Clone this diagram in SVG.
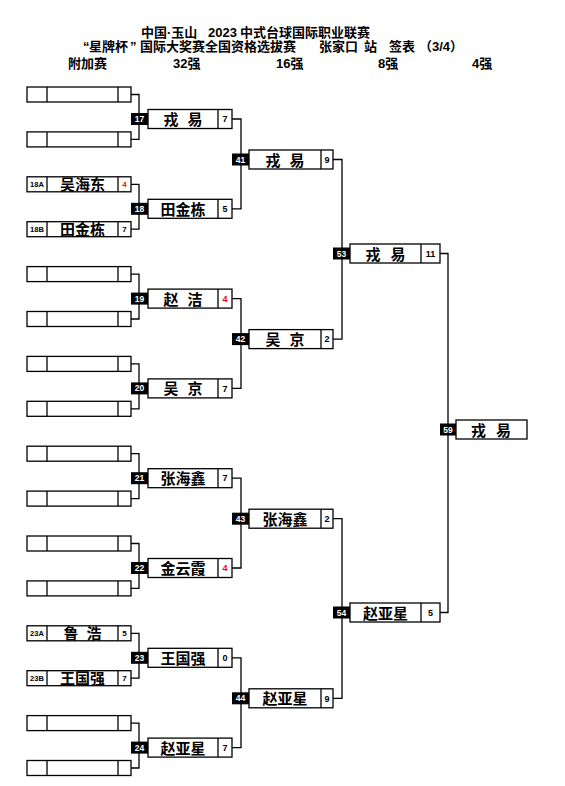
<svg xmlns="http://www.w3.org/2000/svg" width="565" height="786" viewBox="0 0 565 786">
<style>
.b{fill:#fff;stroke:#000;stroke-width:1.3}
.d{stroke:#000;stroke-width:1.3}
.c{fill:none;stroke:#000;stroke-width:1.3}
.lb{fill:#000}
.lt{fill:#fff;font-family:"Liberation Sans",sans-serif;font-weight:bold;font-size:8.5px;text-anchor:middle}
.nm{font-family:"Noto Sans CJK SC",sans-serif;font-weight:bold;font-size:15px;text-anchor:middle;fill:#000}
.sc{font-family:"Liberation Sans",sans-serif;font-weight:bold;font-size:9px;text-anchor:middle;fill:#000}
.s0{font-size:8px}
.red{fill:#f00}
.sd{font-family:"Liberation Sans",sans-serif;font-weight:bold;font-size:7.5px;text-anchor:middle}
.t{font-family:"Liberation Sans","Noto Sans CJK SC",sans-serif;font-weight:bold;font-size:13px;fill:#000}
</style>
<rect width="565" height="786" fill="#fff"/>
<g id="title">
<text class="t" y="37"><tspan x="141">中国·玉山</tspan><tspan x="208">2023</tspan><tspan x="240">中式台球国际职业联赛</tspan></text>
<text class="t" y="51"><tspan x="83">“</tspan><tspan x="89">星牌杯</tspan><tspan x="130">”</tspan><tspan x="140">国际大奖赛全国资格选拔赛</tspan><tspan x="319">张家口</tspan><tspan x="364">站</tspan><tspan x="389">签表</tspan><tspan x="419">（3/4）</tspan></text>
<text class="t" y="68"><tspan x="68">附加赛</tspan><tspan x="173">32强</tspan><tspan x="276">16强</tspan><tspan x="378">8强</tspan><tspan x="472">4强</tspan></text>
</g>
<g id="connectors">
<path class="c" d="M131 94.5H139V139.4H131M131 184.3H139V229.2H131M131 274.1H139V319H131M131 363.9H139V408.8H131M131 453.7H139V498.6H131M131 543.5H139V588.4H131M131 633.3H139V678.2H131M131 723.1H139V768H131"/>
<path class="c" d="M232 119H241V208.8H232M232 298.6H241V388.4H232M232 478.2H241V568H232M232 657.8H241V747.6H232"/>
<path class="c" d="M333 159.5H342V339.1H333M333 518.7H342V698.3H333"/>
<path class="c" d="M440 253.5H448V612.5H440"/>
</g>
<defs>
<g id="r0box"><rect class="b" x="27" y="0" width="104" height="15"/><line class="d" x1="47" y1="0" x2="47" y2="15"/><line class="d" x1="118" y1="0" x2="118" y2="15"/></g>
<g id="r1box"><rect class="b" x="148" y="0" width="84" height="19"/><line class="d" x1="218" y1="0" x2="218" y2="19"/></g>
<g id="r2box"><rect class="b" x="249" y="0" width="84" height="19"/><line class="d" x1="321" y1="0" x2="321" y2="19"/></g>
<g id="r3box"><rect class="b" x="350" y="0" width="90" height="19"/><line class="d" x1="421" y1="0" x2="421" y2="19"/></g>
</defs>
<g id="r0-1"><use href="#r0box" y="87"/></g>
<g id="r0-2"><use href="#r0box" y="131.9"/></g>
<g id="r0-18A"><use href="#r0box" y="176.8"/><text class="sd" x="37" y="187">18A</text><text class="nm" x="82.5" y="190.3">吴海东</text><text class="sc s0 red" x="124.5" y="187.3">4</text></g>
<g id="r0-18B"><use href="#r0box" y="221.7"/><text class="sd" x="37" y="231.9">18B</text><text class="nm" x="82.5" y="235.2">田金栋</text><text class="sc s0" x="124.5" y="232.2">7</text></g>
<g id="r0-5"><use href="#r0box" y="266.6"/></g>
<g id="r0-6"><use href="#r0box" y="311.5"/></g>
<g id="r0-7"><use href="#r0box" y="356.4"/></g>
<g id="r0-8"><use href="#r0box" y="401.3"/></g>
<g id="r0-9"><use href="#r0box" y="446.2"/></g>
<g id="r0-10"><use href="#r0box" y="491.1"/></g>
<g id="r0-11"><use href="#r0box" y="536"/></g>
<g id="r0-12"><use href="#r0box" y="580.9"/></g>
<g id="r0-23A"><use href="#r0box" y="625.8"/><text class="sd" x="37" y="636">23A</text><text class="nm" x="82.5" y="639.3">鲁<tspan dx="8">浩</tspan></text><text class="sc s0" x="124.5" y="636.3">5</text></g>
<g id="r0-23B"><use href="#r0box" y="670.7"/><text class="sd" x="37" y="680.9">23B</text><text class="nm" x="82.5" y="684.2">王国强</text><text class="sc s0" x="124.5" y="681.2">7</text></g>
<g id="r0-15"><use href="#r0box" y="715.6"/></g>
<g id="r0-16"><use href="#r0box" y="760.5"/></g>

<g id="m17"><use href="#r1box" y="109.5"/><rect class="lb" x="131" y="113" width="17" height="12"/><text class="lt" x="139.5" y="122">17</text><text class="nm" x="183" y="125">戎<tspan dx="9">易</tspan></text><text class="sc" x="225" y="122.2">7</text></g>
<g id="m18"><use href="#r1box" y="199.3"/><rect class="lb" x="131" y="202.8" width="17" height="12"/><text class="lt" x="139.5" y="211.8">18</text><text class="nm" x="183" y="214.8">田金栋</text><text class="sc" x="225" y="212">5</text></g>
<g id="m19"><use href="#r1box" y="289.1"/><rect class="lb" x="131" y="292.6" width="17" height="12"/><text class="lt" x="139.5" y="301.6">19</text><text class="nm" x="183" y="304.6">赵<tspan dx="9">洁</tspan></text><text class="sc red" x="225" y="301.8">4</text></g>
<g id="m20"><use href="#r1box" y="378.9"/><rect class="lb" x="131" y="382.4" width="17" height="12"/><text class="lt" x="139.5" y="391.4">20</text><text class="nm" x="183" y="394.4">吴<tspan dx="9">京</tspan></text><text class="sc" x="225" y="391.6">7</text></g>
<g id="m21"><use href="#r1box" y="468.7"/><rect class="lb" x="131" y="472.2" width="17" height="12"/><text class="lt" x="139.5" y="481.2">21</text><text class="nm" x="183" y="484.2">张海鑫</text><text class="sc" x="225" y="481.4">7</text></g>
<g id="m22"><use href="#r1box" y="558.5"/><rect class="lb" x="131" y="562" width="17" height="12"/><text class="lt" x="139.5" y="571">22</text><text class="nm" x="183" y="574">金云霞</text><text class="sc red" x="225" y="571.2">4</text></g>
<g id="m23"><use href="#r1box" y="648.3"/><rect class="lb" x="131" y="651.8" width="17" height="12"/><text class="lt" x="139.5" y="660.8">23</text><text class="nm" x="183" y="663.8">王国强</text><text class="sc" x="225" y="661">0</text></g>
<g id="m24"><use href="#r1box" y="738.1"/><rect class="lb" x="131" y="741.6" width="17" height="12"/><text class="lt" x="139.5" y="750.6">24</text><text class="nm" x="183" y="753.6">赵亚星</text><text class="sc" x="225" y="750.8">7</text></g>

<g id="m41"><use href="#r2box" y="150"/><rect class="lb" x="232" y="153.5" width="17" height="12"/><text class="lt" x="240.5" y="162.5">41</text><text class="nm" x="285" y="165.5">戎<tspan dx="9">易</tspan></text><text class="sc" x="327" y="162.7">9</text></g>
<g id="m42"><use href="#r2box" y="329.6"/><rect class="lb" x="232" y="333.1" width="17" height="12"/><text class="lt" x="240.5" y="342.1">42</text><text class="nm" x="285" y="345.1">吴<tspan dx="9">京</tspan></text><text class="sc" x="327" y="342.3">2</text></g>
<g id="m43"><use href="#r2box" y="509.2"/><rect class="lb" x="232" y="512.7" width="17" height="12"/><text class="lt" x="240.5" y="521.7">43</text><text class="nm" x="285" y="524.7">张海鑫</text><text class="sc" x="327" y="521.9">2</text></g>
<g id="m44"><use href="#r2box" y="688.8"/><rect class="lb" x="232" y="692.3" width="17" height="12"/><text class="lt" x="240.5" y="701.3">44</text><text class="nm" x="285" y="704.3">赵亚星</text><text class="sc" x="327" y="701.5">9</text></g>

<g id="m53"><use href="#r3box" y="244"/><rect class="lb" x="333" y="247.5" width="17" height="12"/><text class="lt" x="341.5" y="256.5">53</text><text class="nm" x="385.5" y="259.5">戎<tspan dx="10">易</tspan></text><text class="sc" x="430.5" y="256.7">11</text></g>
<g id="m54"><use href="#r3box" y="603"/><rect class="lb" x="333" y="606.5" width="17" height="12"/><text class="lt" x="341.5" y="615.5">54</text><text class="nm" x="385.5" y="618.5">赵亚星</text><text class="sc" x="430.5" y="615.7">5</text></g>

<g id="m59"><rect class="b" x="456" y="420" width="71" height="19"/><rect class="lb" x="440" y="423.5" width="16" height="12"/><text class="lt" x="448" y="432.5">59</text><text class="nm" x="491" y="435.5">戎<tspan dx="10">易</tspan></text></g>
</svg>
